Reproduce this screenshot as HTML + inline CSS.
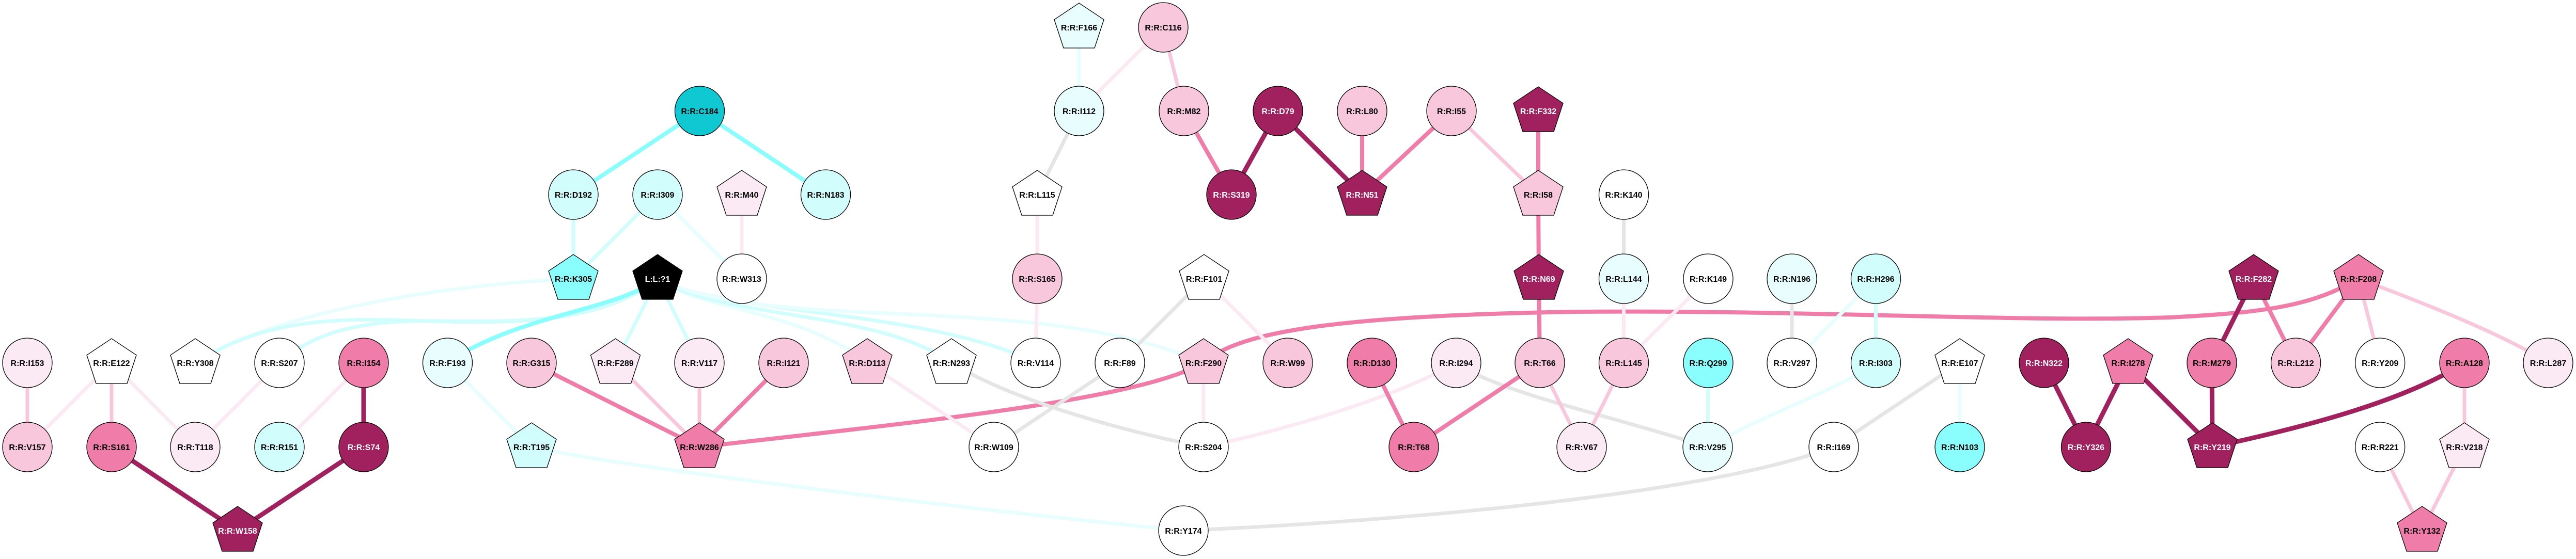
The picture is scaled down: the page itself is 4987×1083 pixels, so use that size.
<!DOCTYPE html>
<html><head><meta charset="utf-8"><style>
html,body{margin:0;padding:0;background:#fff;}
svg{display:block;}
text{font-family:"Liberation Sans",Arial,sans-serif;font-weight:bold;font-size:16px;text-anchor:middle;}
.e{fill:none;stroke-linecap:butt;}
.dm{stroke:#A0215E;stroke-width:9}
.mp{stroke:#F07CAA;stroke-width:8}
.lp{stroke:#F8C7DC;stroke-width:7}
.vlp{stroke:#FBEAF3;stroke-width:7}
.cy{stroke:#8AFDFD;stroke-width:8}
.lc{stroke:#D2FDFD;stroke-width:7}
.vlc{stroke:#E8FEFE;stroke-width:7}
.gr{stroke:#E5E5E5;stroke-width:7}
.n{stroke:#000;stroke-width:1.3}
</style></head><body>
<svg xmlns="http://www.w3.org/2000/svg" width="4987" height="1083" viewBox="0 0 4987 1083">
<rect width="4987" height="1083" fill="#fff"/>
<defs>
<polygon id="pg" points="0,-47 48,-15 30,40 -30,40 -48,-15"/>
</defs>
<g id="edges">
<!-- left block -->
<line class="e lp" x1="53" y1="703" x2="53" y2="866"/>
<line class="e vlp" x1="216" y1="703" x2="53" y2="866"/>
<line class="e lp" x1="216" y1="703" x2="216" y2="866"/>
<line class="e vlp" x1="216" y1="703" x2="378" y2="866"/>
<line class="e vlp" x1="541" y1="703" x2="378" y2="866"/>
<line class="e vlp" x1="704" y1="703" x2="541" y2="866"/>
<line class="e dm" x1="704" y1="703" x2="704" y2="866"/>
<line class="e dm" x1="216" y1="866" x2="460" y2="1028"/>
<line class="e dm" x1="704" y1="866" x2="460" y2="1028"/>
<!-- ligand curves -->
<path class="e vlc" d="M 378 703 C 500 620, 800 555, 1110 540"/>
<path class="e lc" d="M 378 703 C 480 640, 580 615, 760 620 S 1150 640, 1273 540"/>
<path class="e lc" d="M 541 703 C 600 650, 680 625, 800 622 C 950 620, 1150 640, 1273 540"/>
<path class="e cy" d="M 1273 540 C 1200 600, 1000 610, 866 703"/>
<line class="e lc" x1="1273" y1="540" x2="1191.5" y2="703"/>
<line class="e lc" x1="1273" y1="540" x2="1354" y2="703"/>
<path class="e vlc" d="M 1273 540 C 1350 600, 1550 600, 1679 703"/>
<path class="e lc" d="M 1273 540 C 1400 620, 1700 600, 1842 703"/>
<path class="e lc" d="M 1273 540 C 1400 610, 1800 600, 2005 703"/>
<path class="e vlc" d="M 1273 540 C 1500 650, 2000 560, 2330 703"/>
<!-- top-left cyan cluster -->
<line class="e cy" x1="1354.5" y1="215" x2="1110" y2="377"/>
<line class="e cy" x1="1354.5" y1="215" x2="1598.5" y2="377"/>
<line class="e lc" x1="1110" y1="377" x2="1110" y2="540"/>
<line class="e lc" x1="1273" y1="377" x2="1110" y2="540"/>
<line class="e vlc" x1="1273" y1="377" x2="1436" y2="540"/>
<line class="e vlp" x1="1436" y1="377" x2="1436" y2="540"/>
<!-- W286 cluster -->
<line class="e vlc" x1="866.5" y1="703" x2="1029" y2="866"/>
<path class="e vlc" d="M 1029 866 C 1200 905, 1900 990, 2291 1028"/>
<line class="e mp" x1="1029" y1="703" x2="1354" y2="866"/>
<line class="e lp" x1="1191.5" y1="703" x2="1354" y2="866"/>
<line class="e lp" x1="1354" y1="703" x2="1354" y2="866"/>
<line class="e mp" x1="1517" y1="703" x2="1354" y2="866"/>
<path class="e mp" d="M 1354 866 C 1800 815, 2200 775, 2330 703"/>
<path class="e mp" d="M 2330 703 C 2400 640, 2600 612, 3050 604 C 3500 600, 3900 625, 4200 615 C 4400 605, 4480 590, 4566 540"/>
<!-- middle -->
<line class="e vlc" x1="2089" y1="53" x2="2089" y2="215"/>
<line class="e vlp" x1="2252" y1="53" x2="2089" y2="215"/>
<line class="e lp" x1="2252" y1="53" x2="2292" y2="215"/>
<line class="e gr" x1="2089" y1="215" x2="2008" y2="377"/>
<line class="e vlp" x1="2008" y1="377" x2="2008" y2="540"/>
<line class="e vlp" x1="2008" y1="540" x2="2005" y2="703"/>
<line class="e vlp" x1="1679" y1="703" x2="1924" y2="866"/>
<line class="e gr" x1="2168" y1="703" x2="1924" y2="866"/>
<path class="e gr" d="M 1842 703 C 1950 770, 2150 830, 2330 866"/>
<line class="e gr" x1="2331" y1="540" x2="2168" y2="703"/>
<line class="e vlp" x1="2331" y1="540" x2="2493" y2="703"/>
<line class="e vlp" x1="2330" y1="703" x2="2330" y2="866"/>
<path class="e vlp" d="M 2819 703 C 2700 770, 2500 830, 2330 866"/>
<path class="e gr" d="M 2819 703 C 2900 760, 3100 800, 3306 866"/>
<path class="e gr" d="M 2291 1028 C 2700 1010, 3300 960, 3550 866"/>
<line class="e mp" x1="2292" y1="215" x2="2384" y2="377"/>
<line class="e dm" x1="2474" y1="215" x2="2384" y2="377"/>
<line class="e dm" x1="2474" y1="215" x2="2637" y2="377"/>
<line class="e mp" x1="2637" y1="215" x2="2637" y2="377"/>
<line class="e mp" x1="2810" y1="215" x2="2637" y2="377"/>
<line class="e lp" x1="2810" y1="215" x2="2978" y2="377"/>
<line class="e mp" x1="2978" y1="215" x2="2978" y2="377"/>
<line class="e mp" x1="2978" y1="377" x2="2979" y2="540"/>
<line class="e mp" x1="2979" y1="540" x2="2981" y2="703"/>
<line class="e mp" x1="2656" y1="703" x2="2737" y2="866"/>
<line class="e mp" x1="2981" y1="703" x2="2737" y2="866"/>
<line class="e lp" x1="2981" y1="703" x2="3062" y2="866"/>
<line class="e lp" x1="3143.5" y1="703" x2="3062" y2="866"/>
<!-- right-middle -->
<line class="e gr" x1="3143.5" y1="377" x2="3143.5" y2="540"/>
<line class="e vlp" x1="3143.5" y1="540" x2="3143.5" y2="703"/>
<line class="e vlp" x1="3307" y1="540" x2="3143.5" y2="703"/>
<line class="e gr" x1="3469" y1="540" x2="3469" y2="703"/>
<line class="e vlc" x1="3631.5" y1="540" x2="3469" y2="703"/>
<line class="e lc" x1="3631.5" y1="540" x2="3631.5" y2="703"/>
<line class="e lc" x1="3307" y1="703" x2="3306" y2="866"/>
<path class="e vlc" d="M 3631.5 703 C 3550 760, 3420 800, 3306 866"/>
<line class="e gr" x1="3794" y1="703" x2="3550" y2="866"/>
<line class="e vlc" x1="3794" y1="703" x2="3794" y2="866"/>
<!-- right block -->
<line class="e dm" x1="4363" y1="540" x2="4282" y2="703"/>
<line class="e mp" x1="4363" y1="540" x2="4444.6" y2="703"/>
<line class="e mp" x1="4566" y1="540" x2="4444.6" y2="703"/>
<line class="e lp" x1="4566" y1="540" x2="4607.7" y2="703"/>
<path class="e lp" d="M 4566 540 C 4700 590, 4850 650, 4933 703"/>
<line class="e dm" x1="3957" y1="703" x2="4038.5" y2="866"/>
<line class="e dm" x1="4120" y1="703" x2="4038.5" y2="866"/>
<line class="e dm" x1="4120" y1="703" x2="4283" y2="866"/>
<line class="e dm" x1="4282" y1="703" x2="4283" y2="866"/>
<path class="e dm" d="M 4771 703 C 4650 780, 4450 830, 4283 866"/>
<line class="e lp" x1="4771" y1="703" x2="4771" y2="866"/>
<line class="e lp" x1="4607.7" y1="866" x2="4689" y2="1028"/>
<line class="e lp" x1="4771" y1="866" x2="4689" y2="1028"/>
</g>
<g id="nodes">
<!-- row 53 -->
<use href="#pg" x="2089" y="53" class="n" fill="#E8FEFE"/><text x="2089" y="59">R:R:F166</text>
<circle class="n" cx="2252" cy="53" r="48" fill="#F8C7DC"/><text x="2252" y="59">R:R:C116</text>
<!-- row 215 -->
<circle class="n" cx="1354.5" cy="215" r="48" fill="#10C8D2"/><text x="1354.5" y="221">R:R:C184</text>
<circle class="n" cx="2089" cy="215" r="48" fill="#E8FEFE"/><text x="2089" y="221">R:R:I112</text>
<circle class="n" cx="2292" cy="215" r="48" fill="#F8C7DC"/><text x="2292" y="221">R:R:M82</text>
<circle class="n" cx="2474" cy="215" r="48" fill="#A0215E"/><text x="2474" y="221" fill="#fff">R:R:D79</text>
<circle class="n" cx="2637" cy="215" r="48" fill="#F8C7DC"/><text x="2637" y="221">R:R:L80</text>
<circle class="n" cx="2810" cy="215" r="48" fill="#F8C7DC"/><text x="2810" y="221">R:R:I55</text>
<use href="#pg" x="2978" y="215" class="n" fill="#A0215E"/><text x="2978" y="221" fill="#fff">R:R:F332</text>
<!-- row 377 -->
<circle class="n" cx="1110" cy="377" r="48" fill="#D2FDFD"/><text x="1110" y="383">R:R:D192</text>
<circle class="n" cx="1273" cy="377" r="48" fill="#D2FDFD"/><text x="1273" y="383">R:R:I309</text>
<use href="#pg" x="1436" y="377" class="n" fill="#FBEAF3"/><text x="1436" y="383">R:R:M40</text>
<circle class="n" cx="1598.5" cy="377" r="48" fill="#D2FDFD"/><text x="1598.5" y="383">R:R:N183</text>
<use href="#pg" x="2008" y="377" class="n" fill="#FFFFFF"/><text x="2008" y="383">R:R:L115</text>
<circle class="n" cx="2384" cy="377" r="48" fill="#A0215E"/><text x="2384" y="383" fill="#fff">R:R:S319</text>
<use href="#pg" x="2637" y="377" class="n" fill="#A0215E"/><text x="2637" y="383" fill="#fff">R:R:N51</text>
<use href="#pg" x="2978" y="377" class="n" fill="#F8C7DC"/><text x="2978" y="383">R:R:I58</text>
<circle class="n" cx="3143.5" cy="377" r="48" fill="#FFFFFF"/><text x="3143.5" y="383">R:R:K140</text>
<!-- row 540 -->
<use href="#pg" x="1110" y="540" class="n" fill="#8AFDFD"/><text x="1110" y="546">R:R:K305</text>
<use href="#pg" x="1273" y="540" class="n" fill="#000000"/><text x="1273" y="546" fill="#fff">L:L:?1</text>
<circle class="n" cx="1436" cy="540" r="48" fill="#FFFFFF"/><text x="1436" y="546">R:R:W313</text>
<circle class="n" cx="2008" cy="540" r="48" fill="#F8C7DC"/><text x="2008" y="546">R:R:S165</text>
<use href="#pg" x="2331" y="540" class="n" fill="#FFFFFF"/><text x="2331" y="546">R:R:F101</text>
<use href="#pg" x="2979" y="540" class="n" fill="#A0215E"/><text x="2979" y="546" fill="#fff">R:R:N69</text>
<circle class="n" cx="3143.5" cy="540" r="48" fill="#E8FEFE"/><text x="3143.5" y="546">R:R:L144</text>
<circle class="n" cx="3307" cy="540" r="48" fill="#FFFFFF"/><text x="3307" y="546">R:R:K149</text>
<circle class="n" cx="3469" cy="540" r="48" fill="#E8FEFE"/><text x="3469" y="546">R:R:N196</text>
<circle class="n" cx="3631.5" cy="540" r="48" fill="#D2FDFD"/><text x="3631.5" y="546">R:R:H296</text>
<use href="#pg" x="4363" y="540" class="n" fill="#A0215E"/><text x="4363" y="546" fill="#fff">R:R:F282</text>
<use href="#pg" x="4566" y="540" class="n" fill="#F07CAA"/><text x="4566" y="546">R:R:F208</text>
<!-- row 703 -->
<circle class="n" cx="53" cy="703" r="48" fill="#FBEAF3"/><text x="53" y="709">R:R:I153</text>
<use href="#pg" x="216" y="703" class="n" fill="#FFFFFF"/><text x="216" y="709">R:R:E122</text>
<use href="#pg" x="378" y="703" class="n" fill="#FFFFFF"/><text x="378" y="709">R:R:Y308</text>
<circle class="n" cx="541" cy="703" r="48" fill="#FFFFFF"/><text x="541" y="709">R:R:S207</text>
<circle class="n" cx="704" cy="703" r="48" fill="#F07CAA"/><text x="704" y="709">R:R:I154</text>
<circle class="n" cx="866.5" cy="703" r="48" fill="#E8FEFE"/><text x="866.5" y="709">R:R:F193</text>
<circle class="n" cx="1029" cy="703" r="48" fill="#F8C7DC"/><text x="1029" y="709">R:R:G315</text>
<use href="#pg" x="1191.5" y="703" class="n" fill="#FBEAF3"/><text x="1191.5" y="709">R:R:F289</text>
<circle class="n" cx="1354" cy="703" r="48" fill="#FBEAF3"/><text x="1354" y="709">R:R:V117</text>
<circle class="n" cx="1517" cy="703" r="48" fill="#F8C7DC"/><text x="1517" y="709">R:R:I121</text>
<use href="#pg" x="1679" y="703" class="n" fill="#F8C7DC"/><text x="1679" y="709">R:R:D113</text>
<use href="#pg" x="1842" y="703" class="n" fill="#FFFFFF"/><text x="1842" y="709">R:R:N293</text>
<circle class="n" cx="2005" cy="703" r="48" fill="#FFFFFF"/><text x="2005" y="709">R:R:V114</text>
<circle class="n" cx="2168" cy="703" r="48" fill="#FFFFFF"/><text x="2168" y="709">R:R:F89</text>
<use href="#pg" x="2330" y="703" class="n" fill="#F8C7DC"/><text x="2330" y="709">R:R:F290</text>
<circle class="n" cx="2493" cy="703" r="48" fill="#F8C7DC"/><text x="2493" y="709">R:R:W99</text>
<circle class="n" cx="2656" cy="703" r="48" fill="#F07CAA"/><text x="2656" y="709">R:R:D130</text>
<circle class="n" cx="2819" cy="703" r="48" fill="#FBEAF3"/><text x="2819" y="709">R:R:I294</text>
<circle class="n" cx="2981" cy="703" r="48" fill="#F8C7DC"/><text x="2981" y="709">R:R:T66</text>
<circle class="n" cx="3143.5" cy="703" r="48" fill="#F8C7DC"/><text x="3143.5" y="709">R:R:L145</text>
<circle class="n" cx="3307" cy="703" r="48" fill="#8AFDFD"/><text x="3307" y="709">R:R:Q299</text>
<circle class="n" cx="3469" cy="703" r="48" fill="#FFFFFF"/><text x="3469" y="709">R:R:V297</text>
<circle class="n" cx="3631.5" cy="703" r="48" fill="#D2FDFD"/><text x="3631.5" y="709">R:R:I303</text>
<use href="#pg" x="3794" y="703" class="n" fill="#FFFFFF"/><text x="3794" y="709">R:R:E107</text>
<circle class="n" cx="3957" cy="703" r="48" fill="#A0215E"/><text x="3957" y="709" fill="#fff">R:R:N322</text>
<use href="#pg" x="4120" y="703" class="n" fill="#F07CAA"/><text x="4120" y="709">R:R:I278</text>
<circle class="n" cx="4282" cy="703" r="48" fill="#F07CAA"/><text x="4282" y="709">R:R:M279</text>
<circle class="n" cx="4444.6" cy="703" r="48" fill="#F8C7DC"/><text x="4444.6" y="709">R:R:L212</text>
<circle class="n" cx="4607.7" cy="703" r="48" fill="#FFFFFF"/><text x="4607.7" y="709">R:R:Y209</text>
<circle class="n" cx="4771" cy="703" r="48" fill="#F07CAA"/><text x="4771" y="709">R:R:A128</text>
<circle class="n" cx="4933" cy="703" r="48" fill="#FBEAF3"/><text x="4933" y="709">R:R:L287</text>
<!-- row 866 -->
<circle class="n" cx="53" cy="866" r="48" fill="#F8C7DC"/><text x="53" y="872">R:R:V157</text>
<circle class="n" cx="216" cy="866" r="48" fill="#F07CAA"/><text x="216" y="872">R:R:S161</text>
<circle class="n" cx="378" cy="866" r="48" fill="#FBEAF3"/><text x="378" y="872">R:R:T118</text>
<circle class="n" cx="541" cy="866" r="48" fill="#D2FDFD"/><text x="541" y="872">R:R:R151</text>
<circle class="n" cx="704" cy="866" r="48" fill="#A0215E"/><text x="704" y="872" fill="#fff">R:R:S74</text>
<use href="#pg" x="1029" y="866" class="n" fill="#D2FDFD"/><text x="1029" y="872">R:R:T195</text>
<use href="#pg" x="1354" y="866" class="n" fill="#F07CAA"/><text x="1354" y="872">R:R:W286</text>
<circle class="n" cx="1924" cy="866" r="48" fill="#FFFFFF"/><text x="1924" y="872">R:R:W109</text>
<circle class="n" cx="2330" cy="866" r="48" fill="#FFFFFF"/><text x="2330" y="872">R:R:S204</text>
<circle class="n" cx="2737" cy="866" r="48" fill="#F07CAA"/><text x="2737" y="872">R:R:T68</text>
<circle class="n" cx="3062" cy="866" r="48" fill="#FBEAF3"/><text x="3062" y="872">R:R:V67</text>
<circle class="n" cx="3306" cy="866" r="48" fill="#E8FEFE"/><text x="3306" y="872">R:R:V295</text>
<circle class="n" cx="3550" cy="866" r="48" fill="#FFFFFF"/><text x="3550" y="872">R:R:I169</text>
<circle class="n" cx="3794" cy="866" r="48" fill="#8AFDFD"/><text x="3794" y="872">R:R:N103</text>
<circle class="n" cx="4038.5" cy="866" r="48" fill="#A0215E"/><text x="4038.5" y="872" fill="#fff">R:R:Y326</text>
<use href="#pg" x="4283" y="866" class="n" fill="#A0215E"/><text x="4283" y="872" fill="#fff">R:R:Y219</text>
<circle class="n" cx="4607.7" cy="866" r="48" fill="#FFFFFF"/><text x="4607.7" y="872">R:R:R221</text>
<use href="#pg" x="4771" y="866" class="n" fill="#FBEAF3"/><text x="4771" y="872">R:R:V218</text>
<!-- row 1028 -->
<use href="#pg" x="460" y="1028" class="n" fill="#A0215E"/><text x="460" y="1034" fill="#fff">R:R:W158</text>
<circle class="n" cx="2291" cy="1028" r="48" fill="#FFFFFF"/><text x="2291" y="1034">R:R:Y174</text>
<use href="#pg" x="4689" y="1028" class="n" fill="#F07CAA"/><text x="4689" y="1034">R:R:Y132</text>
</g>
</svg>
</body></html>
